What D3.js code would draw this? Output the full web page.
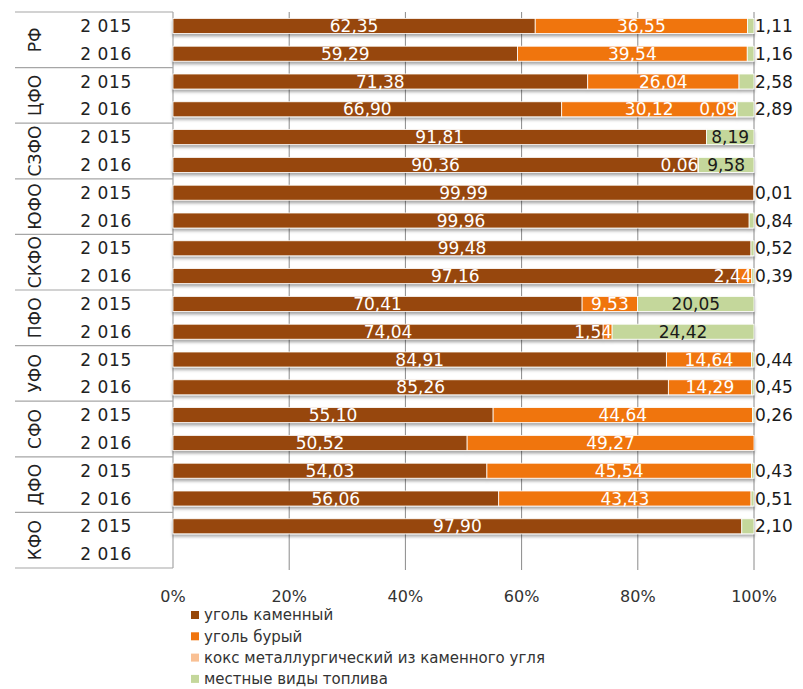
<!DOCTYPE html>
<html>
<head>
<meta charset="utf-8">
<script src="https://cdn.jsdelivr.net/npm/d3@7"></script>
<style>
  body { margin: 0; background: #fff; }
  svg { font-family: "DejaVu Sans", sans-serif; }
</style>
</head>
<body>
<div id="chart"></div>
<script>
// regions and years (rows go region by region, 2015 then 2016)
const regions = ["РФ", "ЦФО", "СЗФО", "ЮФО", "СКФО", "ПФО", "УФО", "СФО", "ДФО", "КФО"];
const years = ["2 015", "2 016"];
const seriesNames = ["уголь каменный", "уголь бурый", "кокс металлургический из каменного угля", "местные виды топлива"];
const ticks = [0, 0.2, 0.4, 0.6, 0.8, 1];

// shares, % (one value per row)
const kamenny = [62.35, 59.29, 71.38, 66.90, 91.81, 90.36, 99.99, 99.96, 99.48, 97.16,
                 70.41, 74.04, 84.91, 85.26, 55.10, 50.52, 54.03, 56.06, 97.90, 0];
const bury    = [36.55, 39.54, 26.04, 30.12, 0, 0, 0, 0, 0, 2.44,
                 9.53, 1.54, 14.64, 14.29, 44.64, 49.27, 45.54, 43.43, 0, 0];
const koks    = [0, 0, 0, 0.09, 0, 0.06, 0, 0, 0, 0,
                 0, 0, 0, 0, 0, 0, 0, 0, 0, 0];
const mestnye = [1.11, 1.16, 2.58, 2.89, 8.19, 9.58, 0.01, 0.84, 0.52, 0.39,
                 20.05, 24.42, 0.44, 0.45, 0.26, 0, 0.43, 0.51, 2.10, 0];

const colors = ["#974708", "#f0740e", "#f9c094", "#c4d79b"];
const labelColors = ["#fff", "#fff", "#fff", "#1a1a1a"];

const width = 803, height = 689;
const margin = {left: 173, right: 49, top: 12, bottom: 121};
const tableLeft = 15;

const seriesArrays = [kamenny, bury, koks, mestnye];
const rows = [];
regions.forEach((r, gi) => years.forEach((y, yi) => {
  const i = gi * 2 + yi;
  const row = {key: r + "|" + y, region: r, year: y};
  seriesArrays.forEach((arr, s) => row["s" + s] = arr[i]);
  rows.push(row);
}));
const keys = seriesArrays.map((a, s) => "s" + s);

const stacked = d3.stack().keys(keys).offset(d3.stackOffsetExpand)(rows);

const svg = d3.select("#chart").append("svg")
  .attr("width", width).attr("height", height);

const defs = svg.append("defs");
defs.append("filter").attr("id", "shadow")
  .attr("x", "-5%").attr("y", "-30%").attr("width", "110%").attr("height", "190%")
  .append("feDropShadow")
  .attr("dx", 0).attr("dy", 2.5).attr("stdDeviation", 1.5)
  .attr("flood-color", "#000").attr("flood-opacity", 0.35);

const x = d3.scaleLinear().domain([0, 1]).range([margin.left, width - margin.right]);
const y = d3.scaleBand().domain(rows.map(d => d.key))
  .range([margin.top, height - margin.bottom])
  .paddingInner(0.46).paddingOuter(0.23);
const step = y.step();

// gridlines
svg.append("g").selectAll("line").data(ticks.slice(1)).join("line")
  .attr("x1", d => x(d)).attr("x2", d => x(d))
  .attr("y1", margin.top).attr("y2", height - margin.bottom + 2)
  .attr("stroke", "#8a8a8a").attr("stroke-width", 1);

// table on the left
const tbl = svg.append("g").attr("stroke", "#a6a6a6").attr("stroke-width", 1.2);
tbl.append("line")
  .attr("x1", margin.left).attr("x2", margin.left)
  .attr("y1", margin.top).attr("y2", height - margin.bottom);
tbl.selectAll("line.sep").data(d3.range(regions.length + 1)).join("line")
  .attr("class", "sep")
  .attr("x1", tableLeft).attr("x2", margin.left)
  .attr("y1", i => margin.top + i * step * 2)
  .attr("y2", i => margin.top + i * step * 2);

svg.append("g").selectAll("text").data(rows).join("text")
  .attr("x", 106)
  .attr("y", d => y(d.key) + y.bandwidth() / 2)
  .attr("dy", "0.36em")
  .attr("text-anchor", "middle")
  .attr("font-size", 17)
  .attr("letter-spacing", 0.6)
  .attr("fill", "#222")
  .text(d => d.year);

svg.append("g").selectAll("text").data(regions).join("text")
  .attr("transform", (d, i) => `translate(35,${margin.top + (i + 0.5) * step * 2}) rotate(-90)`)
  .attr("dy", "0.36em")
  .attr("text-anchor", "middle")
  .attr("font-size", 17)
  .attr("fill", "#222")
  .text(d => d);

// bars
const bars = svg.append("g").attr("filter", "url(#shadow)");
bars.selectAll("g").data(stacked).join("g")
  .attr("fill", (d, i) => colors[i])
  .selectAll("rect")
  .data(d => d.filter(p => p[1] - p[0] > 0))
  .join("rect")
  .attr("x", p => x(p[0]))
  .attr("y", p => y(p.data.key))
  .attr("width", p => x(p[1]) - x(p[0]))
  .attr("height", y.bandwidth())
  .attr("stroke", "#fff")
  .attr("stroke-width", 0.8);

// data labels
const fmt = v => d3.format(".2f")(v).replace(".", ",");
const labels = svg.append("g").attr("font-size", 17);
stacked.forEach((ser, s) => {
  ser.forEach((p, ri) => {
    const v = p.data[ser.key];
    if (!(v > 0)) return;
    const row = p.data;
    const lastIdx = d3.max(keys.map((k, j) => row[k] > 0 ? j : -1));
    const t = labels.append("text")
      .attr("y", y(row.key) + y.bandwidth() / 2)
      .attr("dy", "0.36em")
      .text(fmt(v));
    const tw = t.node().getComputedTextLength();
    const x0 = x(p[0]), x1 = x(p[1]);
    if (x1 - x0 >= tw + 2) {
      t.attr("x", (x0 + x1) / 2).attr("text-anchor", "middle")
        .attr("fill", labelColors[s]);
    } else if (s === lastIdx) {
      t.attr("x", x(1) + 1).attr("text-anchor", "start").attr("fill", "#1a1a1a");
    } else {
      t.attr("x", x1).attr("text-anchor", "end").attr("fill", "#fff");
    }
  });
});

// x axis labels
svg.append("g").selectAll("text").data(ticks).join("text")
  .attr("x", d => x(d))
  .attr("y", 596)
  .attr("dy", "0.36em")
  .attr("text-anchor", "middle")
  .attr("font-size", 16)
  .attr("fill", "#333")
  .text(d => d3.format(".0%")(d));

// legend
const legend = svg.append("g").selectAll("g").data(seriesNames).join("g")
  .attr("transform", (d, i) => `translate(191,${615 + i * 21.3})`);
legend.append("rect")
  .attr("x", 0).attr("y", -4).attr("width", 8).attr("height", 8)
  .attr("fill", (d, i) => colors[i]);
legend.append("text")
  .attr("x", 13).attr("dy", "0.36em")
  .attr("font-size", 15).attr("fill", "#333")
  .text(d => d);
</script>
</body>
</html>
